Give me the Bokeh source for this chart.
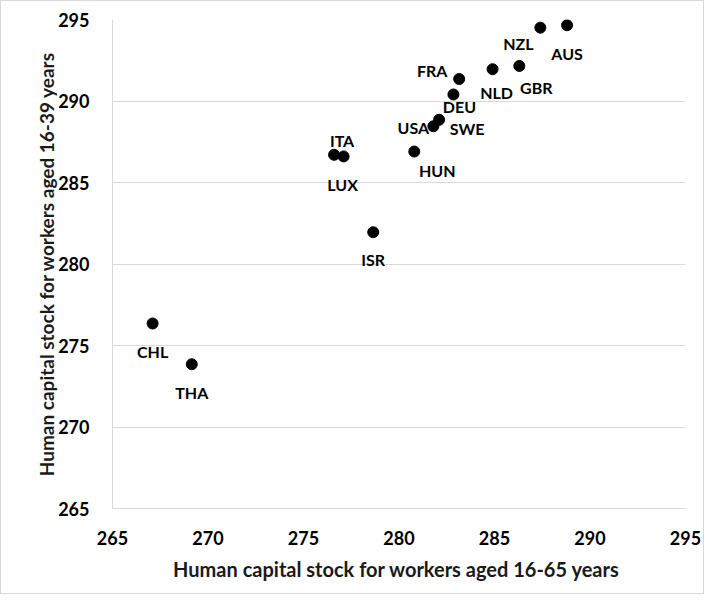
from bokeh.plotting import figure
from bokeh.models import ColumnDataSource, FixedTicker
from bokeh.core.properties import value
from bokeh.embed import file_html
from bokeh.resources import INLINE

# Data
countries = ["CHL", "THA", "ITA", "LUX", "ISR", "HUN", "USA", "SWE",
             "DEU", "FRA", "NLD", "GBR", "NZL", "AUS"]
hc_16_65 = [267.1, 269.15, 276.6, 277.1, 278.65, 280.8, 281.8, 282.1,
            282.85, 283.15, 284.9, 286.3, 287.4, 288.8]
hc_16_39 = [276.35, 273.85, 286.7, 286.6, 281.95, 286.9, 288.45, 288.85,
            290.4, 291.35, 291.95, 292.15, 294.5, 294.65]
ticks = [265, 270, 275, 280, 285, 290, 295]

# label placement (screen px offsets, styling only)
label_dx = [0, 0, 8, -1, 0, 23, -20, 28, 6, -27, 4, 17, -22, 0]
label_dy = [28, 28, -14, 28, 27, 19, 1, 9, 12, -8, 23, 22, 16, 28]

src = ColumnDataSource(dict(x=hc_16_65, y=hc_16_39, name=countries,
                            dx=label_dx, dy=label_dy))

p = figure(width=704, height=594, output_backend="svg", toolbar_location=None,
           x_range=(265, 295), y_range=(265, 295),
           min_border_left=111, min_border_right=20,
           min_border_top=18, min_border_bottom=87)
p.styles = {"border": "1px solid #d9d9d9", "box-sizing": "border-box"}
p.outline_line_color = None
p.background_fill_color = "white"
p.border_fill_color = "white"

p.scatter(x="x", y="y", source=src, size=11, color="black")
p.text(x="x", y="y", text="name", source=src, x_offset="dx", y_offset="dy",
       text_align="center", text_baseline="middle",
       text_font=value("Lato"), text_font_style="bold",
       text_font_size="16px", text_color="black")

for ax in (p.xaxis[0], p.yaxis[0]):
    ax.ticker = FixedTicker(ticks=ticks)
    ax.major_tick_line_color = None
    ax.minor_tick_line_color = None
    ax.axis_line_color = "#d9d9d9"
    ax.axis_line_width = 1
    ax.major_label_text_font = "Lato"
    ax.major_label_text_font_style = "bold"
    ax.major_label_text_font_size = "18px"
    ax.major_label_text_color = "black"
    ax.axis_label_text_font = "Lato"
    ax.axis_label_text_font_style = "bold"
    ax.axis_label_text_color = "#1a1a1a"

p.xaxis.axis_label_text_font_size = "20px"
p.yaxis.axis_label_text_font_size = "19px"
p.xaxis.axis_label = "Human capital stock  for workers aged 16-65 years"
p.yaxis.axis_label = "Human capital stock for workers aged 16-39 years"
p.xaxis.major_label_standoff = 16
p.yaxis.major_label_standoff = 17
p.xaxis.axis_label_standoff = 9
p.yaxis.axis_label_standoff = -3

p.xgrid.grid_line_color = None
p.ygrid.grid_line_color = "#d9d9d9"
p.ygrid.grid_line_width = 1
p.ygrid.ticker = FixedTicker(ticks=ticks)

open("out.html", "w").write(file_html(p, INLINE))
